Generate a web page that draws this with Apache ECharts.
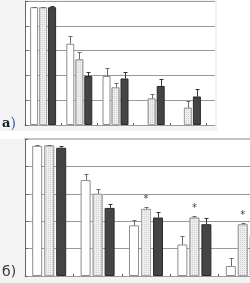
<!DOCTYPE html>
<html>
<head>
<meta charset="utf-8">
<script src="https://cdn.jsdelivr.net/npm/echarts@6/dist/echarts.min.js"></script>
<style>
  html, body { margin: 0; padding: 0; background: #fff; width: 250px; height: 283px; overflow: hidden; }
  /* the lower panel runs past the right edge of the picture, so the canvas is wider than the window */
  #chart { width: 268px; height: 283px; }
</style>
</head>
<body>
<div id="chart"></div>
<script>
  // groups along x (the axis carries no labels)
  const groups = ['1', '2', '3', '4', '5'];
  const yMin = 0;
  const yMax = 100;
  const yStep = 20;

  // panel a)
  const whiteA = [95, 65.5, 39.5, null, null];
  const whiteSdA = [0.5, 6, 6.5, null, null];
  const grayA = [95, 53, 30.5, 21.5, 14];
  const graySdA = [0.5, 5.5, 3.5, 3.5, 5.5];
  const darkA = [95, 39.5, 37.5, 31.5, 23];
  const darkSdA = [0.8, 3.5, 5.3, 5.3, 5.8];

  // panel б)
  const whiteB = [95, 70, 37, 23, 7.3];
  const whiteSdB = [0.5, 4.2, 4, 6, 6.2];
  const grayB = [95.3, 60, 49, 42.7, 37.8];
  const graySdB = [0.5, 3.4, 1.5, 0.8, 1];
  const darkB = [93.6, 49.7, 42.7, 37.8, 30];
  const darkSdB = [1.2, 2.5, 3.7, 4.2, 3];
  const starsB = ['', '', '*', '*', '*'];

  const chart = echarts.init(document.getElementById('chart'));

  const dotted = {
    symbol: 'rect',
    symbolSize: 1,
    dashArrayX: [1, 1],
    dashArrayY: [1, 1],
    color: 'rgba(0,0,0,0.12)',
  };

  function barSeries(vals, xi, yi, width, gap, style, extra) {
    return Object.assign({
      type: 'bar',
      xAxisIndex: xi,
      yAxisIndex: yi,
      data: vals,
      barWidth: width,
      barGap: gap,
      itemStyle: style,
      silent: true,
    }, extra || {});
  }

  // T-shaped error whiskers drawn from the bar top
  function errSeries(vals, sds, xi, yi, shift, color) {
    return {
      type: 'custom',
      xAxisIndex: xi,
      yAxisIndex: yi,
      silent: true,
      z: 5,
      data: vals.map((v, i) => (v == null ? null : [i, v, sds[i]])).filter((d) => d),
      renderItem: function (params, api) {
        const base = api.coord([api.value(0), api.value(1)]);
        const top = api.coord([api.value(0), api.value(1) + api.value(2)]);
        const x = Math.round(base[0] + shift) + 0.5;
        const y = Math.round(top[1]) + 0.5;
        return {
          type: 'group',
          children: [
            { type: 'line', shape: { x1: x, y1: base[1], x2: x, y2: y }, style: { stroke: color, lineWidth: 1 } },
            { type: 'line', shape: { x1: x - 2, y1: y, x2: x + 2, y2: y }, style: { stroke: color, lineWidth: 1 } },
          ],
        };
      },
    };
  }

  const whiteStyle = { color: '#ffffff', borderColor: '#8c8c8c', borderWidth: 1 };
  const grayStyle = { color: '#eeeeee', borderColor: '#a6a6a6', borderWidth: 1, decal: dotted };
  const darkStyle = { color: '#444444', borderColor: '#2a2a2a', borderWidth: 1 };

  const valueY = function (gi, showAxis) {
    return {
      type: 'value',
      gridIndex: gi,
      min: yMin,
      max: yMax,
      interval: yStep,
      show: showAxis,
      axisLabel: { show: false },
      axisLine: { show: true, lineStyle: { color: '#666', width: 1 } },
      axisTick: { show: true, inside: true, length: 3, lineStyle: { color: '#666' } },
      splitLine: { show: true, lineStyle: { color: '#9a9a9a', width: 1 } },
    };
  };

  const option = {
    animation: false,
    backgroundColor: '#ffffff',
    graphic: [
      { type: 'rect', z: -100, shape: { x: 0, y: 0, width: 217, height: 131 }, style: { fill: '#f3f3f3' } },
      { type: 'rect', z: -100, shape: { x: 0, y: 139, width: 268, height: 144 }, style: { fill: '#f3f3f3' } },
      {
        type: 'text', left: 2, top: 117, z: 10,
        style: {
          text: '{a|a}{p|)}',
          rich: {
            a: { fontFamily: 'DejaVu Serif', fontWeight: 'bold', fontSize: 13, fill: '#1a1a2a' },
            p: { fontFamily: 'DejaVu Serif', fontSize: 14, fill: '#3a5fb0' },
          },
        },
      },
      {
        type: 'text', left: 2, top: 265, z: 10,
        style: { text: 'б)', fontFamily: 'DejaVu Sans', fontSize: 14, fill: '#3a3a3a' },
      },
    ],
    grid: [
      { left: 25, top: 1, width: 190, height: 124, show: true, backgroundColor: '#ffffff', borderWidth: 0 },
      { left: 25, top: 1, width: 181, height: 124, show: false },
      { left: 25, top: 139, width: 242, height: 137, show: true, backgroundColor: '#ffffff', borderWidth: 0 },
    ],
    xAxis: [
      {
        type: 'value', gridIndex: 0, min: 0, max: 1,
        axisLine: { show: true, lineStyle: { color: '#9a9a9a' } },
        axisTick: { show: false }, axisLabel: { show: false }, splitLine: { show: false },
      },
      {
        type: 'category', gridIndex: 1, data: groups,
        axisLine: { show: false },
        axisTick: { show: true, inside: true, length: 2, lineStyle: { color: '#555' } },
        axisLabel: { show: false },
      },
      {
        type: 'category', gridIndex: 2, data: groups,
        axisLine: { show: true, lineStyle: { color: '#9a9a9a' } },
        axisTick: { show: true, inside: true, length: 2, lineStyle: { color: '#555' } },
        axisLabel: { show: false },
      },
      {
        type: 'value', gridIndex: 2, position: 'top', min: 0, max: 1,
        axisLine: { show: true, lineStyle: { color: '#c2c2c2', width: 2 } },
        axisTick: { show: false }, axisLabel: { show: false }, splitLine: { show: false },
      },
    ],
    yAxis: [
      valueY(0, true),
      valueY(1, false),
      valueY(2, true),
    ],
    series: [
      barSeries(whiteA, 1, 1, 8, '12.5%', whiteStyle),
      barSeries(grayA, 1, 1, 8, '12.5%', grayStyle),
      barSeries(darkA, 1, 1, 8, '12.5%', darkStyle),
      errSeries(whiteA, whiteSdA, 1, 1, -9, '#6a6a6a'),
      errSeries(grayA, graySdA, 1, 1, 0, '#6a6a6a'),
      errSeries(darkA, darkSdA, 1, 1, 9, '#333'),

      barSeries(whiteB, 2, 2, 10, '20%', whiteStyle),
      barSeries(grayB, 2, 2, 10, '20%', grayStyle, {
        label: {
          show: true,
          position: 'top',
          distance: 4,
          fontSize: 10,
          fontFamily: 'DejaVu Sans',
          color: '#444',
          formatter: (p) => starsB[p.dataIndex],
        },
      }),
      barSeries(darkB, 2, 2, 10, '20%', darkStyle),
      errSeries(whiteB, whiteSdB, 2, 2, -12, '#6a6a6a'),
      errSeries(grayB, graySdB, 2, 2, 0, '#6a6a6a'),
      errSeries(darkB, darkSdB, 2, 2, 12, '#333'),
    ],
  };

  chart.setOption(option);
</script>
</body>
</html>
